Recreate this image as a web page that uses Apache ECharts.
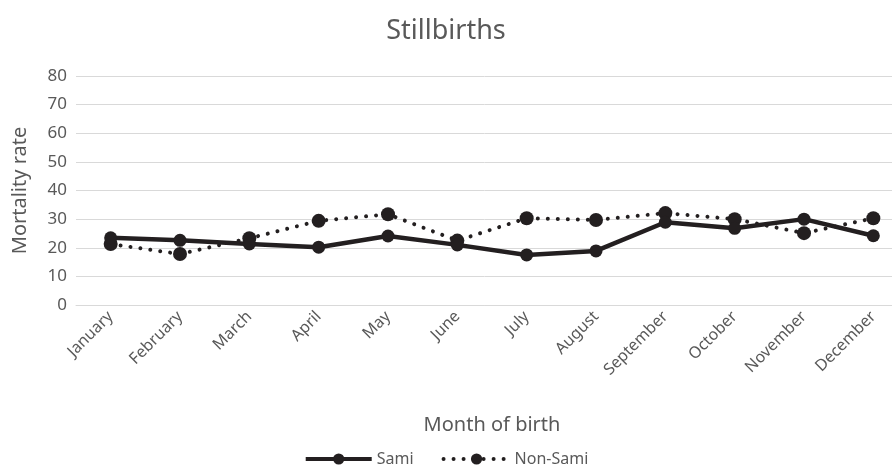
<!DOCTYPE html>
<html>
<head>
<meta charset="utf-8">
<script src="https://cdn.jsdelivr.net/npm/echarts@6/dist/echarts.min.js"></script>
<style>
  html, body { margin: 0; padding: 0; background: #fff; }
  #chart { width: 892px; height: 472px; }
</style>
</head>
<body>
<div id="chart"></div>
<script>
// data
var months = ['January', 'February', 'March', 'April', 'May', 'June', 'July', 'August', 'September', 'October', 'November', 'December'];
var sami = [23.5, 22.6, 21.3, 20.2, 24.1, 21.0, 17.5, 18.9, 28.9, 26.8, 30.0, 24.2];
var nonSami = [21.3, 17.8, 23.3, 29.4, 31.7, 22.5, 30.3, 29.7, 32.1, 30.0, 25.1, 30.3];

var ink = '#231f20';
var grey = '#595959';
var font = 'Noto Sans';

var chart = echarts.init(document.getElementById('chart'));

var option = {
    animation: false,
    textStyle: { fontFamily: font },
    title: {
        text: 'Stillbirths',
        left: 'center',
        top: 13,
        textStyle: { fontFamily: font, fontSize: 27, fontWeight: 'normal', color: grey }
    },
    legend: {
        bottom: 0,
        left: 'center',
        itemWidth: 66,
        itemHeight: 14,
        itemGap: 28,
        lineStyle: { width: 4 },
        textStyle: { fontFamily: font, fontSize: 16, color: grey },
        data: ['Sami', 'Non-Sami']
    },
    grid: {
        left: 76,
        top: 76,
        width: 832,
        height: 229,
        outerBoundsMode: 'none'
    },
    xAxis: {
        type: 'category',
        data: months,
        boundaryGap: true,
        name: 'Month of birth',
        nameLocation: 'middle',
        nameGap: 110,
        nameTextStyle: { fontFamily: font, fontSize: 20, color: grey },
        axisLine: { show: true, lineStyle: { color: '#d9d9d9', width: 1 } },
        axisTick: { show: false },
        axisLabel: { rotate: 45, fontSize: 16, color: grey, margin: 9, interval: 0 }
    },
    yAxis: {
        type: 'value',
        min: 0,
        max: 80,
        interval: 10,
        name: 'Mortality rate',
        nameLocation: 'middle',
        nameGap: 46,
        nameTextStyle: { fontFamily: font, fontSize: 20, color: grey },
        axisLine: { show: false },
        axisTick: { show: false },
        axisLabel: { fontSize: 17, color: grey, margin: 9 },
        splitLine: { lineStyle: { color: '#d9d9d9', width: 1 } }
    },
    series: [
        {
            name: 'Non-Sami',
            type: 'line',
            data: nonSami,
            symbol: 'circle',
            symbolSize: 14,
            itemStyle: { color: ink },
            lineStyle: { color: ink, width: 4, type: [0.01, 10], cap: 'round' }
        },
        {
            name: 'Sami',
            type: 'line',
            data: sami,
            symbol: 'circle',
            symbolSize: 13,
            itemStyle: { color: ink },
            lineStyle: { color: ink, width: 4.5 }
        }
    ]
};

chart.setOption(option);
</script>
</body>
</html>
